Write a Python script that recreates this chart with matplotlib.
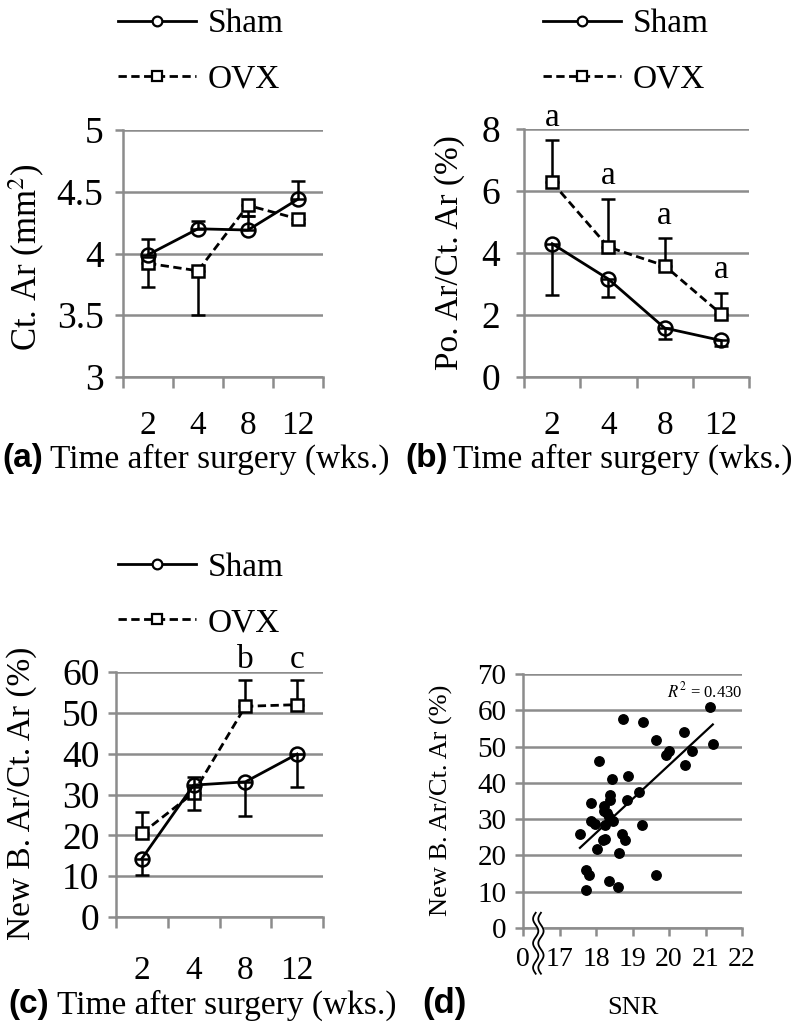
import numpy as np
import matplotlib
matplotlib.use("Agg")
import matplotlib.pyplot as plt
from matplotlib.lines import Line2D

plt.rcParams['font.family'] = ['Liberation Serif', 'DejaVu Serif']
plt.rcParams['mathtext.fontset'] = 'stix'

weeks = ["2", "4", "8", "12"]

# (a) Ct. Ar (mm2) - sham error bars go up, OVX down
ctar_sham = [3.99, 4.20, 4.19, 4.44]
ctar_sham_up = [0.13, 0.06, 0.11, 0.15]
ctar_ovx = [3.92, 3.86, 4.39, 4.28]
ctar_ovx_dn = [0.19, 0.36, 0.09, 0.03]
ctar_ticks = [3, 3.5, 4, 4.5, 5]

# (b) Po. Ar/Ct. Ar (%) - OVX up, sham down
poar_sham = [4.30, 3.16, 1.58, 1.18]
poar_sham_dn = [1.64, 0.59, 0.35, 0.19]
poar_ovx = [6.28, 4.19, 3.59, 2.04]
poar_ovx_up = [1.35, 1.55, 0.88, 0.67]
poar_marks = ["a", "a", "a", "a"]
poar_ticks = [0, 2, 4, 6, 8]

# (c) New B. Ar/Ct. Ar (%)
newb_sham = [14.3, 32.3, 33.1, 39.9]
newb_sham_dn = [4.1, 6.1, 8.4, 8.1]
newb_ovx = [20.5, 30.4, 51.6, 52.0]
newb_ovx_up = [5.1, 3.8, 6.5, 6.1]
newb_marks = ["", "", "b", "c"]
newb_ticks = [0, 10, 20, 30, 40, 50, 60]

# (d) New bone vs SNR
snr = [17.56, 17.73, 17.73, 17.81, 17.85, 17.85, 17.97, 18.02, 18.09, 18.18,
       18.22, 18.22, 18.26, 18.26, 18.31, 18.36, 18.38, 18.38, 18.43, 18.47,
       18.35, 18.61, 18.64, 18.70, 18.73, 18.80, 18.84, 18.89, 19.17, 19.26,
       19.29, 19.64, 19.64, 19.93, 20.00, 20.41, 20.45, 20.64, 21.13, 21.20]
newb_pts = [25.9, 16.1, 10.6, 14.7, 34.4, 29.4, 28.6, 21.7, 46.0, 24.3,
            33.5, 32.3, 24.6, 28.4, 31.7, 30.7, 36.7, 35.3, 41.1, 29.6,
            13.0, 11.3, 20.6, 25.9, 57.6, 24.3, 35.3, 41.9, 37.6, 28.4,
            56.9, 51.8, 14.7, 47.7, 48.9, 53.9, 44.8, 48.9, 61.0, 50.6]
snr_ticks = [16, 17, 18, 19, 20, 21, 22]
snr_labels = ["0", "17", "18", "19", "20", "21", "22"]
d_ticks = [0, 10, 20, 30, 40, 50, 60, 70]

GRAY = '#8c8c8c'
W, H = 802, 1027
fig = plt.figure(figsize=(W / 100, H / 100), dpi=100)


def px_axes(left, top, right, bottom):
    return fig.add_axes([left / W, 1 - bottom / H, (right - left) / W, (bottom - top) / H])


def style_axes(ax, ticks, ylab_pad, xlab_pad, yfs=27, xfs=24):
    for s in ['top', 'right']:
        ax.spines[s].set_visible(False)
    for s in ['left', 'bottom']:
        ax.spines[s].set_color(GRAY)
        ax.spines[s].set_linewidth(1.8)
    ax.set_yticks(ticks)
    ax.set_yticklabels([f"{t:g}" for t in ticks])
    ax.set_ylim(ticks[0], ticks[-1])
    ax.yaxis.grid(True, color=GRAY, lw=1.8)
    ax.set_axisbelow(True)
    ax.tick_params(axis='y', length=6, width=1.8, color=GRAY, pad=ylab_pad, labelsize=yfs)
    ax.tick_params(axis='x', which='major', length=0, pad=xlab_pad, labelsize=xfs)
    ax.tick_params(axis='x', which='minor', length=8, width=1.8, color=GRAY)


def trend_panel(ax, sham, sham_err, ovx, ovx_err, ticks, ylab_pad, xlab_pad):
    x = np.arange(len(weeks))
    ax.errorbar(x, ovx, yerr=ovx_err, color='black', lw=2, ls=(0, (3, 1.6)),
                marker='s', ms=9, mfc='white', mew=1.8, capsize=4.7,
                capthick=1.8, elinewidth=1.8, zorder=3)
    ax.errorbar(x, sham, yerr=sham_err, color='black', lw=2, ls='-',
                marker='o', ms=10, mfc='none', mew=1.8, capsize=4.7,
                capthick=1.8, elinewidth=1.8, zorder=4)
    ax.set_xlim(-0.5, len(weeks) - 0.5)
    ax.set_xticks(x)
    ax.set_xticklabels(weeks)
    ax.set_xticks(np.arange(-0.5, len(weeks)), minor=True)
    style_axes(ax, ticks, ylab_pad, xlab_pad)


def legend_at(ax, x_px, y_px):
    handles = [Line2D([], [], color='black', lw=2, marker='o', ms=7, mfc='white', mew=1.6),
               Line2D([], [], color='black', lw=2, ls=(0, (3, 1.6)), marker='s', ms=7,
                      mfc='white', mew=1.6)]
    ax.legend(handles, ["Sham", "OVX"], loc='upper left',
              bbox_to_anchor=(x_px / W, 1 - y_px / H), bbox_transform=fig.transFigure,
              frameon=False, fontsize=24, handlelength=2.35, handletextpad=0.35,
              labelspacing=0.75, borderpad=0, borderaxespad=0)


zero = np.zeros(4)

# (a)
ax_a = px_axes(123, 130, 323, 377)
trend_panel(ax_a, ctar_sham, [zero, ctar_sham_up], ctar_ovx, [ctar_ovx_dn, zero],
            ctar_ticks, 8, 24)
legend_at(ax_a, 118, 9)
fig.text(27 / W, 1 - 257 / H, "Ct. Ar (mm$^2$)", rotation=90, ha='center', va='center', fontsize=25)

# (b)
ax_b = px_axes(524, 129, 749, 377)
trend_panel(ax_b, poar_sham, [poar_sham_dn, zero], poar_ovx, [zero, poar_ovx_up],
            poar_ticks, 11, 24)
legend_at(ax_b, 543, 9)
fig.text(450 / W, 1 - 253 / H, "Po. Ar/Ct. Ar (%)", rotation=90, ha='center', va='center', fontsize=24)
for i, m in enumerate(poar_marks):
    ax_b.text(i, poar_ovx[i] + poar_ovx_up[i] + 0.25, m, ha='center', va='bottom', fontsize=24)

# (c)
ax_c = px_axes(116, 672, 323, 917)
trend_panel(ax_c, newb_sham, [newb_sham_dn, zero], newb_ovx, [zero, newb_ovx_up],
            newb_ticks, 6, 28)
legend_at(ax_c, 118, 552)
fig.text(22 / W, 1 - 793 / H, "New B. Ar/Ct. Ar (%)", rotation=90, ha='center', va='center', fontsize=24)
for i, m in enumerate(newb_marks):
    if m:
        ax_c.text(i, newb_ovx[i] + newb_ovx_up[i] + 1.2, m, ha='center', va='bottom', fontsize=24)

# (d)
ax_d = px_axes(523, 674, 742, 928)
ax_d.plot(snr, newb_pts, 'o', color='black', ms=6.8, zorder=3)
coef = np.polyfit(snr, newb_pts, 1)
xs = np.array([min(snr), max(snr)])
ax_d.plot(xs, np.polyval(coef, xs), color='black', lw=1.6, zorder=3)
ax_d.set_xlim(16, 22)
ax_d.set_xticks(snr_ticks)
ax_d.set_xticklabels(snr_labels)
style_axes(ax_d, d_ticks, 6, 14, yfs=21, xfs=20)
ax_d.tick_params(axis='x', which='major', length=6, width=1.8, color=GRAY, pad=8)
ax_d.text(1.0, 0.93, "$R^2$ = 0.430", transform=ax_d.transAxes, ha='right', va='center',
          fontsize=12)
fig.text(441 / W, 1 - 800 / H, "New B. Ar/Ct. Ar (%)", rotation=90, ha='center', va='center', fontsize=19)
fig.text(633 / W, 1 - 1008 / H, "SNR", ha='center', va='center', fontsize=19)

# axis break on (d), drawn in axes fractions
yy = np.linspace(0.06, -0.18, 80)
wave = 0.012 * np.sin((yy - 0.06) / 0.24 * 5 * np.pi)
ax_d.fill_betweenx(yy, 0.058 + wave, 0.082 + wave, color='white', transform=ax_d.transAxes,
                   clip_on=False, zorder=5)
ax_d.plot(0.058 + wave, yy, color='black', lw=1.3, transform=ax_d.transAxes, clip_on=False, zorder=6)
ax_d.plot(0.082 + wave, yy, color='black', lw=1.3, transform=ax_d.transAxes, clip_on=False, zorder=6)

# bottom captions
fig.text(2 / W, 1 - 459 / H, "(a)", family='Liberation Sans', weight='bold', fontsize=24, va='center')
fig.text(50 / W, 1 - 459 / H, "Time after surgery (wks.)", fontsize=24, va='center')
fig.text(405 / W, 1 - 459 / H, "(b)", family='Liberation Sans', weight='bold', fontsize=24, va='center')
fig.text(453 / W, 1 - 459 / H, "Time after surgery (wks.)", fontsize=24, va='center')
fig.text(8 / W, 1 - 1005 / H, "(c)", family='Liberation Sans', weight='bold', fontsize=24, va='center')
fig.text(57 / W, 1 - 1005 / H, "Time after surgery (wks.)", fontsize=24, va='center')
fig.text(422 / W, 1 - 1003 / H, "(d)", family='Liberation Sans', weight='bold', fontsize=25, va='center')

fig.savefig("out.png", dpi=100)
